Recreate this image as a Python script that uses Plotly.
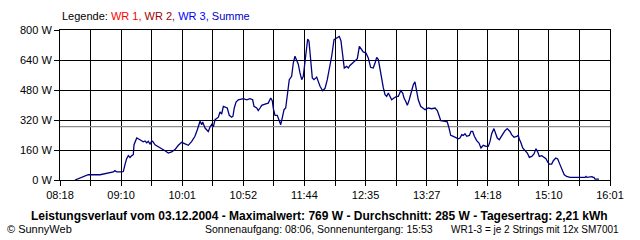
import plotly.graph_objects as go

# time in minutes after midnight, power in W (Summe)
zeit_min = [510.6, 513.4, 516.3, 519.0, 521.8, 531.7, 537.3, 542.9, 544.3, 545.7,
            549.9, 551.3, 552.7, 554.1, 555.5, 556.9, 558.4, 559.7, 560.3, 562.6,
            565.3, 568.1, 569.6, 571.0, 572.3, 573.8, 575.2, 576.0, 578.0, 580.7,
            583.6, 586.4, 589.2, 592.0, 594.8, 597.6, 600.4, 603.2, 606.0, 608.9,
            611.6, 613.6, 615.9, 617.3, 618.1, 620.1, 622.8, 624.3, 625.7, 627.1,
            628.5, 631.3, 632.7, 634.1, 635.5, 638.8, 640.5, 642.5, 643.6, 644.7,
            646.2, 648.1, 650.1, 652.3, 655.2, 657.9, 660.2, 661.3, 663.6, 664.9,
            666.4, 667.8, 670.6, 673.3, 675.4, 676.7, 677.6, 679.0, 680.9, 682.6,
            683.8, 685.1, 686.6, 688.0, 689.7, 691.0, 693.0, 694.4, 695.8, 697.3,
            698.6, 700.0, 701.5, 702.8, 704.2, 705.7, 706.5, 707.6, 709.0, 710.4,
            711.8, 714.1, 715.4, 716.9, 719.1, 721.1, 723.0, 724.7, 726.7, 728.7,
            730.9, 733.1, 734.5, 736.0, 737.3, 739.3, 740.7, 742.1, 744.4, 746.3,
            748.3, 750.0, 752.0, 753.3, 755.6, 757.5, 759.5, 761.7, 763.2, 764.6,
            766.0, 767.4, 768.8, 770.2, 771.6, 773.0, 774.4, 775.8, 777.2, 779.2,
            781.4, 782.8, 784.8, 786.5, 787.6, 789.0, 790.4, 792.0, 794.1, 795.4,
            796.8, 798.3, 799.6, 801.6, 803.3, 805.3, 808.0, 810.9, 813.7, 815.6,
            817.3, 818.5, 822.1, 824.0, 825.5, 826.9, 829.1, 831.4, 833.3, 834.7,
            836.2, 837.5, 838.9, 840.4, 842.6, 844.0, 845.4, 846.8, 848.8, 850.7,
            852.4, 854.3, 856.6, 858.5, 860.0, 861.4, 863.3, 864.8, 866.1, 867.8,
            869.8, 872.6, 874.5, 876.8, 878.2, 880.2, 882.5, 883.8, 884.6, 885.8,
            887.5, 889.4, 891.4, 893.1, 895.1, 897.0, 898.7, 900.1, 901.5, 903.5,
            905.4, 907.1, 908.5, 909.9, 911.9, 913.3, 915.3, 917.0, 918.9, 920.8,
            922.5, 924.5, 927.3, 940.0, 940.8, 941.6, 945.8, 946.7, 947.5, 948.4,
            951.7]
leistung_w = [0, 7, 14, 19, 28, 28, 34, 43, 50, 43,
              43, 45, 82, 114, 130, 120, 130, 135, 188, 224,
              215, 204, 208, 198, 206, 192, 208, 206, 188, 179,
              167, 156, 144, 150, 162, 185, 201, 192, 185, 206,
              233, 268, 313, 295, 310, 277, 259, 283, 296, 283,
              322, 335, 363, 352, 393, 384, 345, 335, 340, 384,
              416, 428, 430, 434, 428, 434, 428, 393, 384, 370,
              384, 398, 405, 410, 437, 423, 380, 345, 345, 313,
              295, 331, 375, 384, 482, 535, 553, 624, 660, 636,
              618, 571, 535, 553, 633, 731, 752, 740, 633, 544,
              535, 549, 526, 500, 476, 489, 535, 588, 660, 748,
              757, 766, 743, 660, 597, 606, 597, 611, 624, 633,
              647, 713, 690, 683, 677, 651, 601, 597, 624, 654,
              642, 588, 544, 491, 455, 446, 464, 446, 428, 437,
              446, 446, 476, 464, 437, 420, 398, 428, 473, 508,
              523, 464, 428, 393, 384, 375, 384, 380, 384, 370,
              340, 316, 313, 310, 277, 238, 233, 227, 220, 224,
              242, 238, 247, 233, 238, 259, 259, 233, 210, 197,
              171, 185, 179, 179, 206, 247, 274, 247, 224, 215,
              238, 263, 274, 259, 242, 228, 233, 238, 218, 203,
              171, 156, 144, 121, 126, 139, 167, 150, 126, 130,
              121, 114, 96, 85, 85, 103, 117, 112, 82, 50,
              28, 19, 14, 14, 19, 14, 18, 14, 14, 5,
              5]

durchschnitt_w = 285
start_min = 8 * 60 + 18
end_min = 16 * 60 + 1
x_ticklabels = ["08:18", "09:10", "10:01", "10:52", "11:44",
                "12:35", "13:27", "14:18", "15:10", "16:01"]
y_ticks = [0, 160, 320, 480, 640, 800]
y_ticklabels = ["0 W", "160 W", "320 W", "480 W", "640 W", "800 W"]

n_grid = 2 * (len(x_ticklabels) - 1)
step = (end_min - start_min) / n_grid
tickvals = [start_min + i * step for i in range(n_grid + 1)]
ticktext = [x_ticklabels[i // 2] if i % 2 == 0 else "" for i in range(n_grid + 1)]

FONT = "Liberation Sans, Arial, sans-serif"

fig = go.Figure()
fig.add_trace(go.Scatter(x=[start_min, end_min], y=[durchschnitt_w, durchschnitt_w],
                         mode="lines", line=dict(color="#8c8c8c", width=1.3),
                         hoverinfo="skip"))
fig.add_trace(go.Scatter(x=zeit_min, y=leistung_w, mode="lines",
                         line=dict(color="#000080", width=1.3)))

fig.update_layout(
    width=640, height=240,
    margin=dict(l=60, r=30, t=30, b=60),
    paper_bgcolor="white", plot_bgcolor="white",
    showlegend=False,
    font=dict(family=FONT, size=11, color="black"),
    xaxis=dict(range=[start_min, end_min], tickvals=tickvals, ticktext=ticktext,
               showgrid=True, gridcolor="black", gridwidth=1,
               showline=True, linecolor="black", linewidth=1, mirror=True,
               ticks="outside", ticklen=5, tickcolor="black", tickwidth=1,
               zeroline=False, tickfont=dict(size=11)),
    yaxis=dict(range=[0, 800], tickvals=y_ticks, ticktext=y_ticklabels,
               showgrid=True, gridcolor="black", gridwidth=1,
               showline=True, linecolor="black", linewidth=1, mirror=True,
               ticks="outside", ticklen=5, tickcolor="black", tickwidth=1,
               zeroline=False, tickfont=dict(size=11)),
)

legend_html = ("Legende: <span style='color:#ff0000'>WR 1,</span> "
               "<span style='color:#a00000'>WR 2,</span> "
               "<span style='color:#0000ff'>WR 3,</span> "
               "<span style='color:#0000c8'>Summe</span>")
fig.add_annotation(text=legend_html, xref="paper", yref="paper", x=0, y=1.093,
                   xanchor="left", yanchor="middle", showarrow=False,
                   font=dict(size=11, color="black"))
fig.add_annotation(text="<b>Leistungsverlauf vom 03.12.2004 - Maximalwert: 769 W - "
                        "Durchschnitt: 285 W - Tagesertrag: 2,21 kWh</b>",
                   xref="paper", yref="paper", x=0.472, y=-0.24,
                   xanchor="center", yanchor="middle", showarrow=False,
                   font=dict(size=12, color="black"))
fig.add_annotation(text="© SunnyWeb", xref="paper", yref="paper", x=-0.1, y=-0.327,
                   xanchor="left", yanchor="middle", showarrow=False,
                   font=dict(size=11, color="black"))
fig.add_annotation(text="Sonnenaufgang: 08:06, Sonnenuntergang: 15:53",
                   xref="paper", yref="paper", x=0.26, y=-0.327,
                   xanchor="left", yanchor="middle", showarrow=False,
                   font=dict(size=10.5, color="black"))
fig.add_annotation(text="WR1-3 = je 2 Strings mit 12x SM7001",
                   xref="paper", yref="paper", x=1.02, y=-0.327,
                   xanchor="right", yanchor="middle", showarrow=False,
                   font=dict(size=10, color="black"))

fig.write_html("out.html")
